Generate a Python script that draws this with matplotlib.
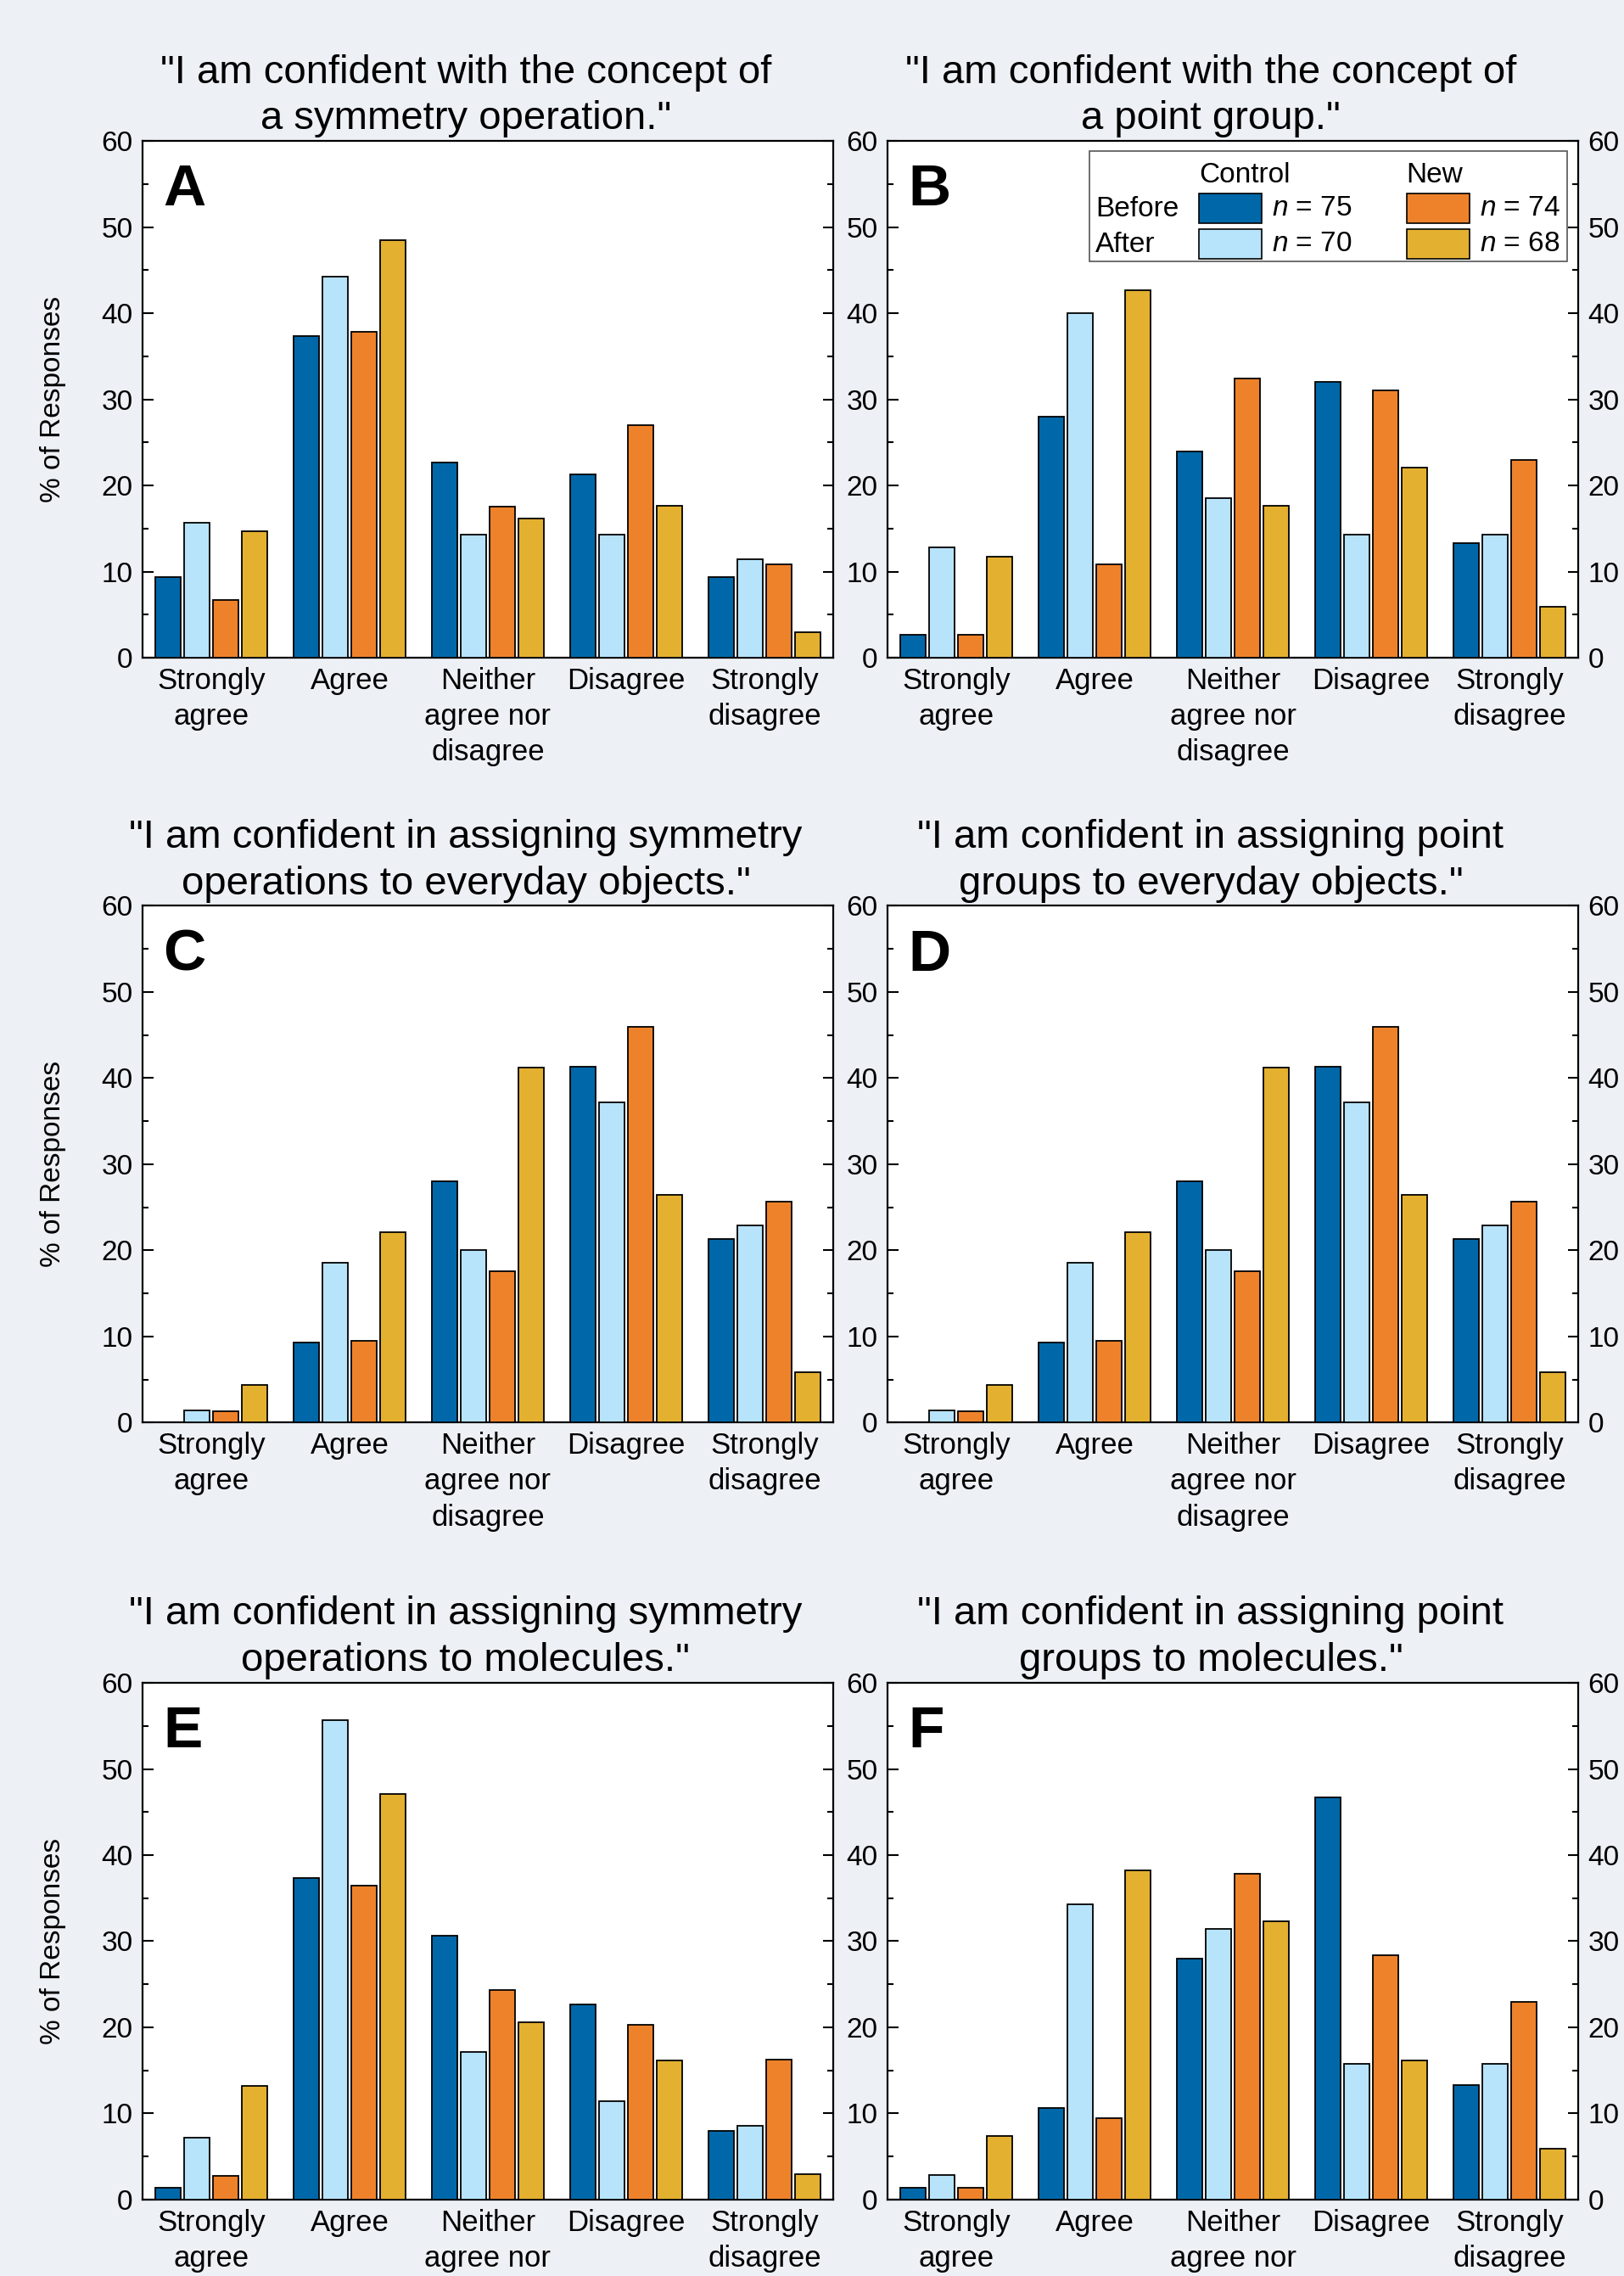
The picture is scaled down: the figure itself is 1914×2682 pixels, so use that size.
import matplotlib
matplotlib.use("Agg")
import matplotlib.pyplot as plt
from matplotlib.patches import Rectangle
import numpy as np

plt.rcParams['font.family'] = ['Liberation Sans', 'DejaVu Sans']
plt.rcParams['mathtext.fontset'] = 'custom'
plt.rcParams['mathtext.it'] = 'Liberation Sans:italic'
plt.rcParams['mathtext.rm'] = 'Liberation Sans'

# ---------------- data ----------------
categories = ["Strongly\nagree", "Agree", "Neither\nagree nor\ndisagree", "Disagree", "Strongly\ndisagree"]
series_names = ["Control before", "Control after", "New before", "New after"]
legend_n = ["75", "70", "74", "68"]
panel_letters = ["A", "B", "C", "D", "E", "F"]
titles = [
    '"I am confident with the concept of\na symmetry operation."',
    '"I am confident with the concept of\na point group."',
    '"I am confident in assigning symmetry\noperations to everyday objects."',
    '"I am confident in assigning point\ngroups to everyday objects."',
    '"I am confident in assigning symmetry\noperations to molecules."',
    '"I am confident in assigning point\ngroups to molecules."',
]

# each panel: control before, control after, new before, new after (percent)
A_ctrl_before = [9.33, 37.33, 22.67, 21.33, 9.33]
A_ctrl_after = [15.71, 44.29, 14.29, 14.29, 11.43]
A_new_before = [6.76, 37.84, 17.57, 27.03, 10.81]
A_new_after = [14.71, 48.53, 16.18, 17.65, 2.94]

B_ctrl_before = [2.67, 28.00, 24.00, 32.00, 13.33]
B_ctrl_after = [12.86, 40.00, 18.57, 14.29, 14.29]
B_new_before = [2.70, 10.81, 32.43, 31.08, 22.97]
B_new_after = [11.76, 42.65, 17.65, 22.06, 5.88]

C_ctrl_before = [0.0, 9.33, 28.00, 41.33, 21.33]
C_ctrl_after = [1.43, 18.57, 20.00, 37.14, 22.86]
C_new_before = [1.35, 9.46, 17.57, 45.95, 25.68]
C_new_after = [4.41, 22.06, 41.18, 26.47, 5.88]

D_ctrl_before = [0.0, 9.33, 28.00, 41.33, 21.33]
D_ctrl_after = [1.43, 18.57, 20.00, 37.14, 22.86]
D_new_before = [1.35, 9.46, 17.57, 45.95, 25.68]
D_new_after = [4.41, 22.06, 41.18, 26.47, 5.88]

E_ctrl_before = [1.33, 37.33, 30.67, 22.67, 8.00]
E_ctrl_after = [7.14, 55.71, 17.14, 11.43, 8.57]
E_new_before = [2.70, 36.49, 24.32, 20.27, 16.22]
E_new_after = [13.24, 47.06, 20.59, 16.18, 2.94]

F_ctrl_before = [1.33, 10.67, 28.00, 46.67, 13.33]
F_ctrl_after = [2.86, 34.29, 31.43, 15.71, 15.71]
F_new_before = [1.35, 9.46, 37.84, 28.38, 22.97]
F_new_after = [7.35, 38.24, 32.35, 16.18, 5.88]

panels = [
    [A_ctrl_before, A_ctrl_after, A_new_before, A_new_after],
    [B_ctrl_before, B_ctrl_after, B_new_before, B_new_after],
    [C_ctrl_before, C_ctrl_after, C_new_before, C_new_after],
    [D_ctrl_before, D_ctrl_after, D_new_before, D_new_after],
    [E_ctrl_before, E_ctrl_after, E_new_before, E_new_after],
    [F_ctrl_before, F_ctrl_after, F_new_before, F_new_after],
]

colors = ["#0068A9", "#B7E3FB", "#EE822B", "#E4B030"]
bg = "#EDF1F6"

# ---------------- figure ----------------
fig = plt.figure(figsize=(19.15, 26.82), dpi=100, facecolor=bg)

lefts = [0.0875, 0.546]
width = 0.4255
bottoms = [0.711, 0.375, 0.0336]
height = 0.227

x = np.arange(len(categories))
offsets = [-0.3127, -0.1042, 0.1042, 0.3127]
bw = 0.18

TICK_FS = 24
for idx, data in enumerate(panels):
    r, c = divmod(idx, 2)
    ax = fig.add_axes([lefts[c], bottoms[r], width, height])
    ax.set_facecolor("white")
    for s, vals in enumerate(data):
        ax.bar(x + offsets[s], vals, width=bw, color=colors[s],
               edgecolor="black", linewidth=1.3, zorder=3)
    ax.set_xlim(-0.5, 4.5)
    ax.set_ylim(0, 60)
    ax.set_yticks(np.arange(0, 61, 10))
    ax.set_yticks(np.arange(5, 60, 10), minor=True)
    ax.set_xticks(x)
    ax.set_xticklabels(categories, fontsize=25, linespacing=1.35)
    ax.tick_params(axis='x', length=0, pad=8)
    ax.tick_params(axis='y', which='major', direction='in', length=9, width=1.5,
                   labelsize=TICK_FS, pad=8, left=True, right=True,
                   labelleft=True, labelright=(c == 1))
    ax.tick_params(axis='y', which='minor', direction='in', length=5, width=1.5,
                   left=True, right=True)
    for sp in ax.spines.values():
        sp.set_linewidth(1.6)
    ax.set_title(titles[idx], fontsize=34, pad=10, linespacing=1.32, x=0.468)
    ax.text(0.030, 0.957, panel_letters[idx], transform=ax.transAxes,
            fontsize=50, fontweight='bold', ha='left', va='top')
    if c == 0:
        ax.set_ylabel("% of Responses", fontsize=24)
        ax.yaxis.set_label_coords(-0.110, 0.5)

    if idx == 1:
        # custom legend
        tr = ax.transAxes
        ax.add_patch(Rectangle((0.292, 0.767), 0.691, 0.213, transform=tr,
                               facecolor="white", edgecolor="#555555",
                               linewidth=1.2, zorder=5))
        lfs = 24
        ax.text(0.451, 0.920, "Control", transform=tr, fontsize=lfs,
                ha='left', va='baseline', zorder=6)
        ax.text(0.751, 0.920, "New", transform=tr, fontsize=lfs,
                ha='left', va='baseline', zorder=6)
        ax.text(0.301, 0.869, "Before", transform=tr, fontsize=lfs,
                ha='left', va='center', zorder=6)
        ax.text(0.301, 0.800, "After", transform=tr, fontsize=lfs,
                ha='left', va='center', zorder=6)
        sw_x = [0.451, 0.451, 0.751, 0.751]
        sw_y = [0.841, 0.772, 0.841, 0.772]
        tx_x = [0.556, 0.556, 0.857, 0.857]
        for s in range(4):
            ax.add_patch(Rectangle((sw_x[s], sw_y[s]), 0.091, 0.057,
                                   transform=tr, facecolor=colors[s],
                                   edgecolor="black", linewidth=1.2, zorder=6))
            ax.text(tx_x[s], sw_y[s] + 0.0285, r"$n$ = " + legend_n[s],
                    transform=tr, fontsize=lfs, ha='left', va='center', zorder=6)

fig.savefig("out.png", dpi=100, facecolor=bg)
